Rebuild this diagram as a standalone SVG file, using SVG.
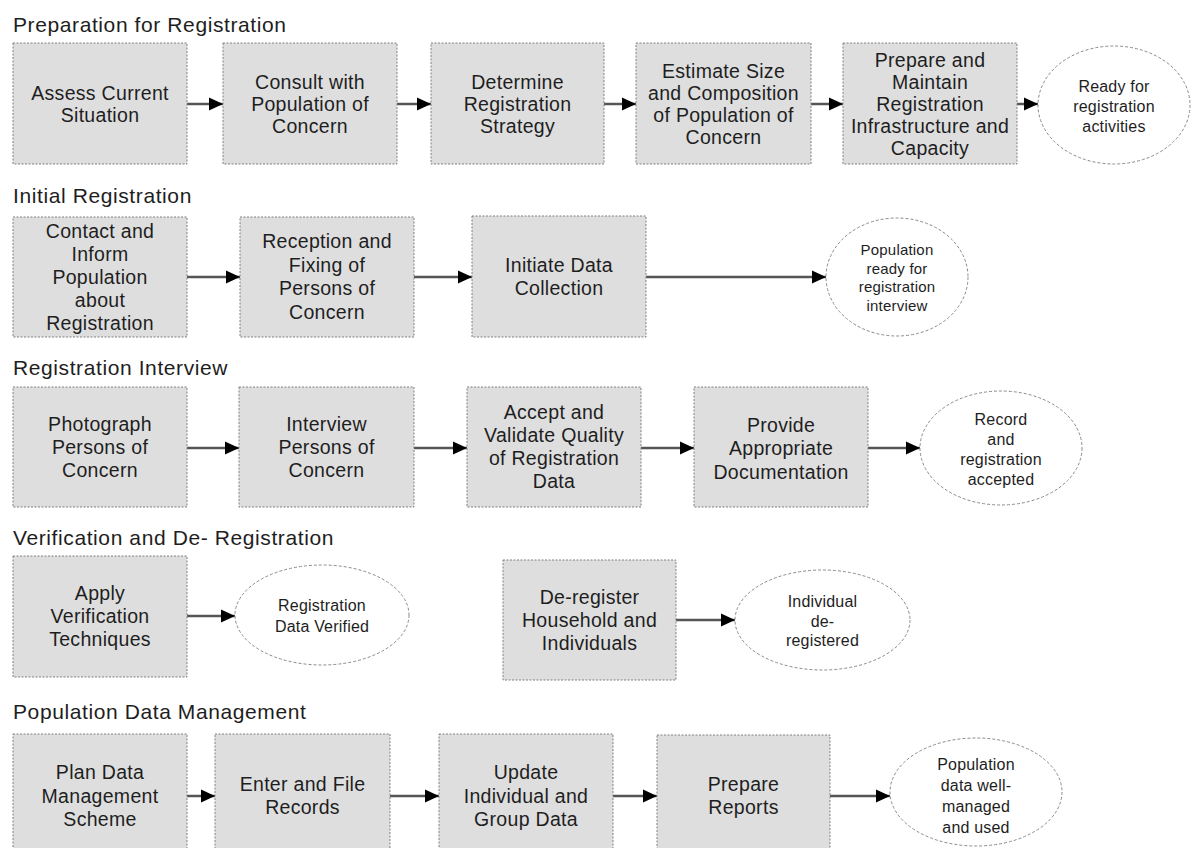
<svg xmlns="http://www.w3.org/2000/svg" width="1197" height="848" viewBox="0 0 1197 848">
<style>
.bg{fill:#ffffff}
.box{fill:#dedede;stroke:#808080;stroke-width:1;stroke-dasharray:2 1.5}
.ell{fill:#ffffff;stroke:#8a8a8a;stroke-width:1;stroke-dasharray:3 2}
.title{font-family:"Liberation Sans",Arial,sans-serif;font-size:21px;letter-spacing:0.6px;fill:#1e1e1e}
.bt{font-family:"Liberation Sans",Arial,sans-serif;font-size:19.5px;letter-spacing:0.3px;fill:#1e1e1e;text-anchor:middle}
.et{font-family:"Liberation Sans",Arial,sans-serif;font-size:16px;letter-spacing:0.2px;fill:#1e1e1e;text-anchor:middle}
.con{stroke:#555555;stroke-width:2.5;fill:none;marker-end:url(#ah)}
</style>
<defs>
<marker id="ah" markerUnits="userSpaceOnUse" viewBox="0 0 14 14" refX="14" refY="7" markerWidth="14" markerHeight="14" orient="auto">
<path d="M0,0.5 L14,7 L0,13.5 z" fill="#000"/>
</marker>
</defs>
<rect class="bg" x="0" y="0" width="1197" height="848"/>

<g id="titles">
<text class="title" x="13" y="32">Preparation for Registration</text>
<text class="title" x="13" y="203">Initial Registration</text>
<text class="title" x="13" y="375">Registration Interview</text>
<text class="title" x="13" y="545">Verification and De- Registration</text>
<text class="title" x="13" y="719">Population Data Management</text>
</g>

<g id="connectors">
<line class="con" x1="187" y1="104" x2="223" y2="104"/>
<line class="con" x1="397" y1="104" x2="431" y2="104"/>
<line class="con" x1="604" y1="104" x2="636" y2="104"/>
<line class="con" x1="811" y1="104" x2="843" y2="104"/>
<line class="con" x1="1017" y1="104" x2="1038" y2="104"/>

<line class="con" x1="187" y1="277" x2="240" y2="277"/>
<line class="con" x1="414" y1="277" x2="472" y2="277"/>
<line class="con" x1="646" y1="277" x2="826" y2="277"/>

<line class="con" x1="187" y1="448" x2="239" y2="448"/>
<line class="con" x1="414" y1="448" x2="467" y2="448"/>
<line class="con" x1="641" y1="448" x2="694" y2="448"/>
<line class="con" x1="868" y1="448" x2="920" y2="448"/>

<line class="con" x1="187" y1="616" x2="235" y2="616"/>
<line class="con" x1="676" y1="620" x2="735" y2="620"/>

<line class="con" x1="187" y1="796" x2="215" y2="796"/>
<line class="con" x1="390" y1="796" x2="439" y2="796"/>
<line class="con" x1="613" y1="796" x2="657" y2="796"/>
<line class="con" x1="830" y1="796" x2="890" y2="796"/>
</g>

<!-- Row 1 -->
<g id="assess">
<rect class="box" x="13" y="43" width="174" height="121"/>
<text class="bt" x="100" y="99.6">Assess Current<tspan x="100" dy="22">Situation</tspan></text>
</g>
<g id="consult">
<rect class="box" x="223" y="43" width="174" height="121"/>
<text class="bt" x="310" y="88.6">Consult with<tspan x="310" dy="22">Population of</tspan><tspan x="310" dy="22">Concern</tspan></text>
</g>
<g id="determine">
<rect class="box" x="431" y="43" width="173" height="121"/>
<text class="bt" x="517.5" y="88.6">Determine<tspan x="517.5" dy="22">Registration</tspan><tspan x="517.5" dy="22">Strategy</tspan></text>
</g>
<g id="estimate">
<rect class="box" x="636" y="43" width="175" height="121"/>
<text class="bt" x="723.5" y="77.6">Estimate Size<tspan x="723.5" dy="22">and Composition</tspan><tspan x="723.5" dy="22">of Population of</tspan><tspan x="723.5" dy="22">Concern</tspan></text>
</g>
<g id="prepare-infra">
<rect class="box" x="843" y="43" width="174" height="121"/>
<text class="bt" x="930" y="66.6">Prepare and<tspan x="930" dy="22">Maintain</tspan><tspan x="930" dy="22">Registration</tspan><tspan x="930" dy="22">Infrastructure and</tspan><tspan x="930" dy="22">Capacity</tspan></text>
</g>
<g id="ready">
<ellipse class="ell" cx="1114" cy="105" rx="76" ry="59"/>
<text class="et" x="1114" y="91.5">Ready for<tspan x="1114" dy="20">registration</tspan><tspan x="1114" dy="20">activities</tspan></text>
</g>

<!-- Row 2 -->
<g id="contact">
<rect class="box" x="13" y="217" width="174" height="120"/>
<text class="bt" x="100" y="237.6">Contact and<tspan x="100" dy="23">Inform</tspan><tspan x="100" dy="23">Population</tspan><tspan x="100" dy="23">about</tspan><tspan x="100" dy="23">Registration</tspan></text>
</g>
<g id="reception">
<rect class="box" x="240" y="217" width="174" height="120"/>
<text class="bt" x="327" y="248.4">Reception and<tspan x="327" dy="23.5">Fixing of</tspan><tspan x="327" dy="23.5">Persons of</tspan><tspan x="327" dy="23.5">Concern</tspan></text>
</g>
<g id="initiate">
<rect class="box" x="472" y="216" width="174" height="121"/>
<text class="bt" x="559" y="272.1">Initiate Data<tspan x="559" dy="23">Collection</tspan></text>
</g>
<g id="pop-ready">
<ellipse class="ell" cx="897" cy="277" rx="71" ry="59"/>
<text class="et" x="897" y="255" style="font-size:15px">Population<tspan x="897" dy="18.5">ready for</tspan><tspan x="897" dy="18.5">registration</tspan><tspan x="897" dy="18.5">interview</tspan></text>
</g>

<!-- Row 3 -->
<g id="photograph">
<rect class="box" x="13" y="387" width="174" height="120"/>
<text class="bt" x="100" y="430.6">Photograph<tspan x="100" dy="23">Persons of</tspan><tspan x="100" dy="23">Concern</tspan></text>
</g>
<g id="interview">
<rect class="box" x="239" y="387" width="175" height="120"/>
<text class="bt" x="326.5" y="430.6">Interview<tspan x="326.5" dy="23">Persons of</tspan><tspan x="326.5" dy="23">Concern</tspan></text>
</g>
<g id="accept">
<rect class="box" x="467" y="387" width="174" height="120"/>
<text class="bt" x="554" y="419.1">Accept and<tspan x="554" dy="23">Validate Quality</tspan><tspan x="554" dy="23">of Registration</tspan><tspan x="554" dy="23">Data</tspan></text>
</g>
<g id="provide">
<rect class="box" x="694" y="387" width="174" height="120"/>
<text class="bt" x="781" y="431.6">Provide<tspan x="781" dy="23.5">Appropriate</tspan><tspan x="781" dy="23.5">Documentation</tspan></text>
</g>
<g id="record">
<ellipse class="ell" cx="1001" cy="448" rx="81" ry="57"/>
<text class="et" x="1001" y="424.5">Record<tspan x="1001" dy="20">and</tspan><tspan x="1001" dy="20">registration</tspan><tspan x="1001" dy="20">accepted</tspan></text>
</g>

<!-- Row 4 -->
<g id="apply">
<rect class="box" x="13" y="556" width="174" height="121"/>
<text class="bt" x="100" y="599.6">Apply<tspan x="100" dy="23">Verification</tspan><tspan x="100" dy="23">Techniques</tspan></text>
</g>
<g id="verified">
<ellipse class="ell" cx="322" cy="615" rx="87" ry="50"/>
<text class="et" x="322" y="610.5">Registration<tspan x="322" dy="21">Data Verified</tspan></text>
</g>
<g id="deregister">
<rect class="box" x="503" y="560" width="173" height="120"/>
<text class="bt" x="589.5" y="604.1">De-register<tspan x="589.5" dy="23">Household and</tspan><tspan x="589.5" dy="23">Individuals</tspan></text>
</g>
<g id="deregistered">
<ellipse class="ell" cx="822.5" cy="620" rx="87.5" ry="50"/>
<text class="et" x="822.5" y="607">Individual<tspan x="822.5" dy="19.5">de-</tspan><tspan x="822.5" dy="19.5">registered</tspan></text>
</g>

<!-- Row 5 -->
<g id="plan">
<rect class="box" x="13" y="734" width="174" height="124"/>
<text class="bt" x="100" y="779">Plan Data<tspan x="100" dy="23.7">Management</tspan><tspan x="100" dy="23.7">Scheme</tspan></text>
</g>
<g id="enter">
<rect class="box" x="215" y="734" width="175" height="124"/>
<text class="bt" x="302.5" y="790.6">Enter and File<tspan x="302.5" dy="23">Records</tspan></text>
</g>
<g id="update">
<rect class="box" x="439" y="734" width="174" height="124"/>
<text class="bt" x="526" y="779">Update<tspan x="526" dy="23.7">Individual and</tspan><tspan x="526" dy="23.7">Group Data</tspan></text>
</g>
<g id="reports">
<rect class="box" x="657" y="735" width="173" height="124"/>
<text class="bt" x="743.5" y="790.6">Prepare<tspan x="743.5" dy="23">Reports</tspan></text>
</g>
<g id="well-managed">
<ellipse class="ell" cx="976" cy="792" rx="86" ry="54"/>
<text class="et" x="976" y="769.5">Population<tspan x="976" dy="21">data well-</tspan><tspan x="976" dy="21">managed</tspan><tspan x="976" dy="21">and used</tspan></text>
</g>
</svg>
